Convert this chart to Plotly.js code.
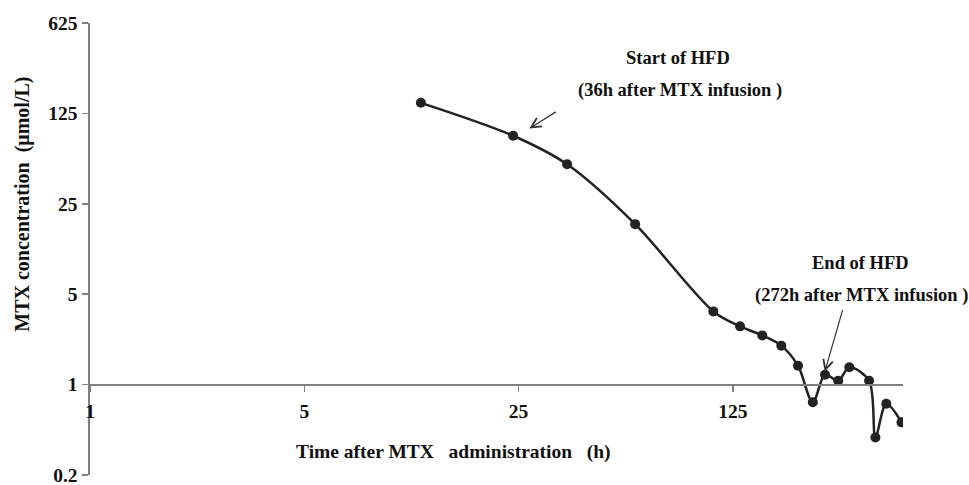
<!DOCTYPE html>
<html>
<head>
<meta charset="utf-8">
<script src="https://cdn.plot.ly/plotly-3.0.1.min.js"></script>
<style>html,body{margin:0;padding:0;background:#fff}#chart{width:969px;height:485px}</style>
</head>
<body>
<div id="chart"></div>
<script>
// Time after MTX administration (h)
var timeHours = [12, 24, 36, 60, 108, 132, 156, 180, 204, 228, 250, 276, 300, 348, 365, 396, 444];
// MTX concentration (umol/L)
var mtxConc = [151, 84, 50.5, 17.4, 3.68, 2.82, 2.40, 2.00, 1.40, 0.73, 1.19, 1.07, 1.36, 1.07, 0.39, 0.71, 0.51];

var yTickVals = [0.2, 1, 5, 25, 125, 625];
var yTickText = ['0.2', '1', '5', '25', '125', '625'];
var xTickVals = [1, 5, 25, 125];
var xTickText = ['1', '5', '25', '125'];

var xTitle = 'Time after MTX\u00a0\u00a0 administration\u00a0\u00a0 (h)';
var yTitle = 'MTX concentration\u00a0 (μmol/L)';

var serif = '"Liberation Serif", "Times New Roman", serif';
var ink = '#111111';
var axisGray = '#808080';

var trace = {
  x: timeHours,
  y: mtxConc,
  type: 'scatter',
  mode: 'lines+markers',
  line: {shape: 'spline', smoothing: 0.9, color: '#222222', width: 2.5},
  marker: {size: 10, color: '#222222'},
  hoverinfo: 'x+y'
};

var yMin = 0.2, yMax = 625;
var xMin = 1, xMax = 449;
var xCross = 1; // the x axis crosses y at 1
var yLo = Math.log10(yMin) - 0.0005, yHi = Math.log10(yMax) + 0.0005;
var crossPos = (Math.log10(xCross) - yLo) / (yHi - yLo);

var L = 89.5, W = 813.8, T = 22.7, H = 452.3;
function px(xp) { return (xp - L) / W; }
function py(yp) { return (T + H - yp) / H; }

var annFont = {family: serif, size: 18.5, color: ink};

var layout = {
  width: 969,
  height: 485,
  margin: {l: 89.5, r: 65.7, t: 22.7, b: 10},
  paper_bgcolor: '#ffffff',
  plot_bgcolor: '#ffffff',
  showlegend: false,
  font: {family: serif, color: ink, size: 19},
  xaxis: {
    type: 'log',
    range: [Math.log10(xMin) - 0.0005, Math.log10(xMax)],
    anchor: 'free',
    position: crossPos,
    tickvals: xTickVals,
    ticktext: xTickText,
    ticks: 'outside',
    ticklen: 6,
    tickwidth: 1.5,
    tickcolor: axisGray,
    showline: true,
    linecolor: axisGray,
    linewidth: 2,
    showgrid: false,
    zeroline: false,
    ticklabelstandoff: 3,
    ticklabeloverflow: 'allow',
    tickfont: {family: serif, size: 19.5, color: ink, weight: 'bold'}
  },
  yaxis: {
    type: 'log',
    range: [yLo, yHi],
    tickvals: yTickVals,
    ticktext: yTickText,
    ticks: 'outside',
    ticklen: 6,
    tickwidth: 1.5,
    tickcolor: axisGray,
    showline: true,
    linecolor: axisGray,
    linewidth: 2.5,
    showgrid: false,
    zeroline: false,
    ticklabeloverflow: 'allow',
    tickfont: {family: serif, size: 19.5, color: ink, weight: 'bold'}
  },
  annotations: [
    {xref: 'paper', yref: 'paper', x: px(453), y: py(452), xanchor: 'center', yanchor: 'middle', text: '<b>' + xTitle + '</b>', showarrow: false, font: {family: serif, size: 19.5, color: ink}},
    {xref: 'paper', yref: 'paper', x: px(22), y: py(204), xanchor: 'center', yanchor: 'middle', textangle: -90, text: '<b>' + yTitle + '</b>', showarrow: false, font: {family: serif, size: 20, color: ink}},
    {xref: 'paper', yref: 'paper', x: px(678), y: py(58), xanchor: 'center', yanchor: 'middle', text: '<b>Start of HFD</b>', showarrow: false, font: annFont},
    {xref: 'paper', yref: 'paper', x: px(680), y: py(90), xanchor: 'center', yanchor: 'middle', text: '<b>(36h after MTX infusion )</b>', showarrow: false, font: annFont},
    {xref: 'paper', yref: 'paper', x: px(861), y: py(263), xanchor: 'center', yanchor: 'middle', text: '<b>End of HFD</b>', showarrow: false, font: annFont},
    {xref: 'paper', yref: 'paper', x: px(862), y: py(295), xanchor: 'center', yanchor: 'middle', text: '<b>(272h after MTX infusion )</b>', showarrow: false, font: annFont},
    {xref: 'paper', yref: 'paper', x: px(529.3), y: py(128.3), ax: 28, ay: -17.6, text: '', showarrow: true, arrowhead: 5, arrowsize: 1.6, arrowwidth: 1.2, arrowcolor: '#333333'},
    {xref: 'paper', yref: 'paper', x: px(825), y: py(371.7), ax: 18.3, ay: -63.4, text: '', showarrow: true, arrowhead: 5, arrowsize: 1.6, arrowwidth: 1.2, arrowcolor: '#333333'}
  ]
};

Plotly.newPlot('chart', [trace], layout, {displayModeBar: false, staticPlot: true});
</script>
</body>
</html>
